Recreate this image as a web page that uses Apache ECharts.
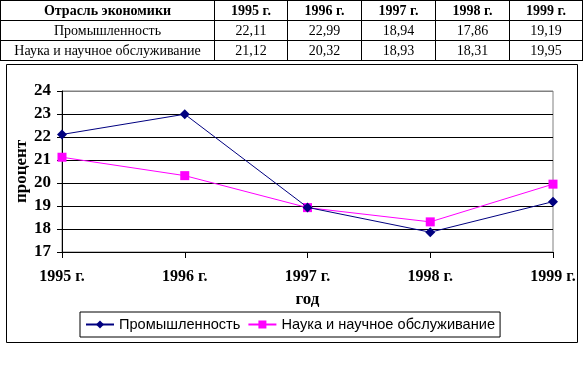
<!DOCTYPE html>
<html>
<head>
<meta charset="utf-8">
<script src="https://cdn.jsdelivr.net/npm/echarts@6/dist/echarts.min.js"></script>
<style>
html,body{margin:0;padding:0;background:#fff;}
#chart{position:absolute;left:0;top:0;width:585px;height:368px;}
#tbl{position:absolute;left:0;top:0;border-collapse:collapse;font-family:"Liberation Serif","Times New Roman",serif;font-size:14px;color:#000;}
#tbl td,#tbl th{border:1px solid #000;height:19px;padding:0;text-align:center;line-height:17px;}
#tbl th{font-weight:bold;}
</style>
</head>
<body>
<div id="chart"></div>
<table id="tbl"></table>
<script>
const tableHeader = 'Отрасль экономики';
const categories = ['1995 г.', '1996 г.', '1997 г.', '1998 г.', '1999 г.'];
const seriesNames = ['Промышленность', 'Наука и научное обслуживание'];
const industry = [22.11, 22.99, 18.94, 17.86, 19.19];
const science = [21.12, 20.32, 18.93, 18.31, 19.95];
const yTitle = 'процент';
const xTitle = 'год';

// table
const colW = [214, 73, 74, 74, 74, 73];
const tbl = document.getElementById('tbl');
let html = '<colgroup>' + colW.map(w => '<col style="width:' + w + 'px">').join('') + '</colgroup>';
html += '<tr><th>' + tableHeader + '</th>' + categories.map(c => '<th>' + c + '</th>').join('') + '</tr>';
const fmt = v => v.toFixed(2).replace('.', ',');
[industry, science].forEach((arr, i) => {
  html += '<tr><td>' + seriesNames[i] + '</td>' + arr.map(v => '<td>' + fmt(v) + '</td>').join('') + '</tr>';
});
tbl.innerHTML = html;

const chart = echarts.init(document.getElementById('chart'), null, {renderer: 'canvas'});
const serif = '"Liberation Serif","Times New Roman",serif';
chart.setOption({
  animation: false,
  backgroundColor: '#fff',
  graphic: [{
    type: 'rect', shape: {x: 6.5, y: 64.5, width: 571, height: 278},
    style: {fill: 'none', stroke: '#000', lineWidth: 1}, z: -1
  }],
  grid: {left: 62, top: 91, right: 32, bottom: 116, show: true, borderColor: '#808080', borderWidth: 1, backgroundColor: 'transparent'},
  legend: {
    left: 80, top: 312, orient: 'horizontal',
    padding: [5, 5], itemGap: 7, itemWidth: 28, itemHeight: 10,
    borderColor: '#000', borderWidth: 1,
    textStyle: {fontFamily: '"Liberation Sans", Arial, sans-serif', fontSize: 14.6, color: '#000'},
    data: seriesNames
  },
  xAxis: {
    type: 'category', data: categories, boundaryGap: false,
    name: xTitle, nameLocation: 'middle', nameGap: 39, nameMoveOverlap: false,
    nameTextStyle: {fontFamily: serif, fontWeight: 'bold', fontSize: 17, color: '#000'},
    axisLine: {lineStyle: {color: '#000', width: 1}},
    axisTick: {show: true, length: 6, lineStyle: {color: '#000'}},
    axisLabel: {fontFamily: serif, fontWeight: 'bold', fontSize: 16, color: '#000', margin: 17},
    splitLine: {show: false}
  },
  yAxis: {
    type: 'value', min: 17, max: 24, interval: 1,
    name: yTitle, nameLocation: 'middle', nameGap: 32, nameMoveOverlap: false,
    nameTextStyle: {fontFamily: serif, fontWeight: 'bold', fontSize: 17, color: '#000'},
    axisLine: {show: true, lineStyle: {color: '#000', width: 1}},
    axisTick: {show: true, length: 5, lineStyle: {color: '#000'}},
    axisLabel: {fontFamily: serif, fontWeight: 'bold', fontSize: 17, color: '#000', margin: 11},
    splitLine: {show: true, lineStyle: {color: ['#000', '#000', '#000', '#000', '#000', '#000', '#000', '#808080'], width: 1}}
  },
  series: [
    {
      name: seriesNames[0], type: 'line', data: industry,
      symbol: 'diamond', symbolSize: 10, showAllSymbol: true,
      lineStyle: {color: '#000080', width: 1},
      itemStyle: {color: '#000080'}, z: 3
    },
    {
      name: seriesNames[1], type: 'line', data: science,
      symbol: 'rect', symbolSize: 9, showAllSymbol: true,
      lineStyle: {color: '#FF00FF', width: 1},
      itemStyle: {color: '#FF00FF'}, z: 2
    }
  ]
});
</script>
</body>
</html>
